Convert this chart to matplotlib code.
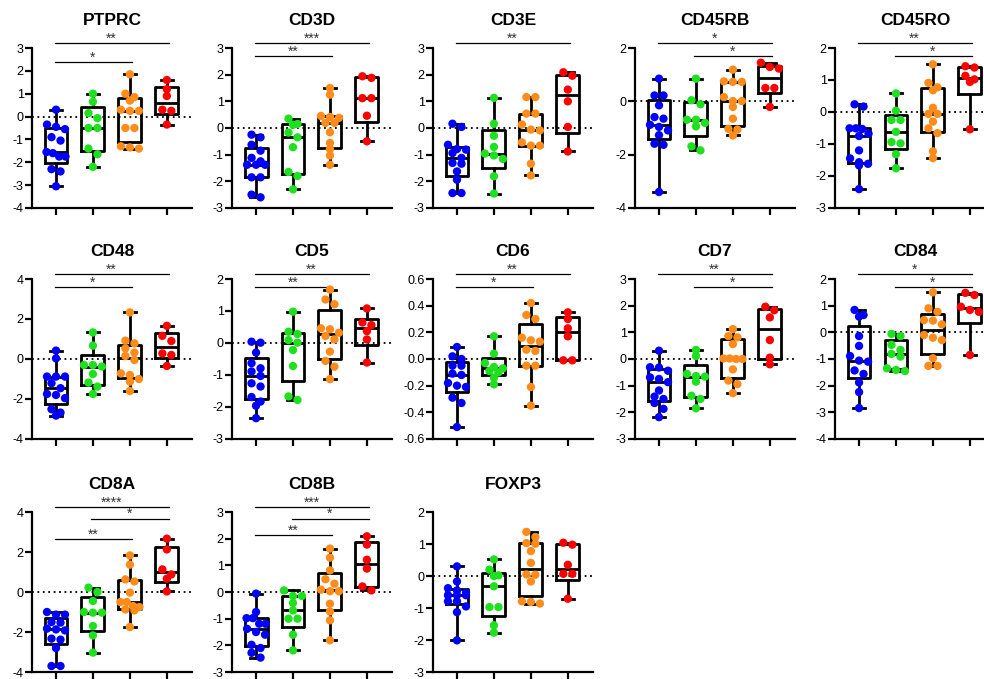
import numpy as np
import matplotlib
matplotlib.use("Agg")
import matplotlib.pyplot as plt
import matplotlib.transforms as mtransforms

plt.rcParams['font.family'] = ['Liberation Sans', 'DejaVu Sans']
plt.rcParams['axes.unicode_minus'] = False

# group colours: blue, green, orange, red
colors = ['#0000ff', '#1fe01f', '#ff8c1a', '#ff0000']

# values, one list per group
ptprc = [[0.3, -0.35, -0.45, -0.55, -0.9, -1.05, -1.55, -1.6, -1.75, -1.75, -2.3, -2.4, -3.05],
         [1.0, 0.65, 0.15, -0.07, -0.5, -0.5, -1.4, -1.65, -2.2],
         [1.85, 1.0, 0.85, 0.7, 0.3, 0.25, 0.25, -0.5, -0.5, -1.3, -1.35, -1.4],
         [1.6, 1.2, 0.9, 0.3, 0.25, -0.35]]
cd3d = [[-0.25, -0.35, -0.63, -0.85, -1.12, -1.38, -1.38, -1.38, -1.25, -1.85, -1.85, -2.5, -2.6],
        [0.35, 0.15, 0.12, -0.35, -0.17, -0.72, -1.65, -1.8, -2.3],
        [1.5, 1.25, 0.41, 0.45, 0.38, 0.19, 0.19, -0.16, -0.56, -0.79, -1.03, -1.38],
        [1.88, 1.94, 1.12, 1.12, 0.46, -0.5]]
cd3e = [[0.16, 0.04, -0.63, -0.79, -0.81, -0.94, -1.12, -1.31, -1.34, -1.63, -1.94, -2.44, -2.44],
        [1.13, 0.16, -0.29, -0.71, -0.96, -1.03, -1.16, -1.81, -2.46],
        [1.16, 1.16, 0.54, 0.54, 0.13, -0.06, -0.09, -0.54, -0.66, -0.66, -1.34, -1.78],
        [1.96, 2.09, 1.44, 1.0, 0.04, -0.88]]
cd45rb = [[0.85, 0.22, 0.22, -0.15, -0.59, -0.65, -0.88, -0.96, -1.09, -1.27, -1.59, -1.63, -3.4],
          [0.85, 0.04, -0.11, -0.69, -0.69, -0.81, -0.94, -1.69, -1.84],
          [1.19, 0.73, 0.73, 0.75, 0.16, 0.01, 0.01, -0.21, -0.65, -1.03, -1.06, -1.28],
          [1.29, 1.45, 1.23, 0.5, 0.5, -0.21]]
cd45ro = [[0.24, 0.17, -0.51, -0.51, -0.53, -0.68, -0.75, -1.2, -1.45, -1.57, -1.62, -1.67, -2.41],
          [0.58, 0.04, -0.25, -0.25, -0.62, -0.98, -0.94, -1.32, -1.76],
          [1.49, 0.91, 0.68, 0.77, 0.13, -0.06, -0.06, -0.3, -0.51, -0.66, -1.23, -1.44],
          [1.43, 1.39, 1.13, 0.94, 1.02, -0.54]]
cd48 = [[0.42, 0.03, -0.88, -0.88, -0.88, -1.21, -1.46, -1.75, -1.8, -1.96, -2.51, -2.68, -2.83],
        [1.33, 0.67, -0.38, -0.3, -0.3, -0.75, -1.18, -1.38, -1.75],
        [2.33, 0.92, 0.78, 0.53, 0.32, 0.15, -0.05, -0.8, -0.72, -1.0, -1.13, -1.6],
        [1.66, 1.16, 0.9, 0.28, 0.2, -0.35]]
cd5 = [[0.04, 0.01, -0.3, -0.63, -0.79, -0.89, -1.03, -1.26, -1.36, -1.69, -1.83, -1.96, -2.35],
       [0.98, 0.28, 0.35, 0.09, 0.01, -0.22, -0.72, -1.78, -1.67],
       [1.67, 1.36, 1.21, 0.46, 0.43, 0.22, 0.32, 0.11, -0.27, -0.56, -0.74, -1.13],
       [1.08, 0.64, 0.56, 0.37, 0.11, -0.61]]
cd6 = [[0.09, 0.0, 0.02, -0.05, -0.05, -0.18, -0.12, -0.11, -0.21, -0.2, -0.33, -0.29, -0.51],
       [0.17, 0.04, -0.06, -0.03, -0.07, -0.09, -0.1, -0.14, -0.19],
       [0.42, 0.33, 0.3, 0.14, 0.16, 0.13, 0.06, 0.07, -0.05, -0.05, -0.21, -0.35],
       [0.35, 0.3, 0.23, 0.17, -0.01, -0.01]]
cd7 = [[0.31, -0.32, -0.31, -0.44, -0.69, -0.75, -0.87, -1.18, -1.41, -1.5, -1.65, -1.87, -2.18],
       [0.34, 0.11, -0.64, -0.56, -0.66, -0.85, -1.38, -1.5, -1.85],
       [1.12, 0.81, 0.86, 0.56, 0.02, 0.02, 0.0, 0.0, -0.39, -0.81, -0.94, -1.28],
       [1.83, 1.96, 1.56, 0.71, 0.05, -0.2]]
cd84 = [[0.84, 0.59, 0.65, -0.14, -0.51, -0.89, -1.06, -1.1, -1.43, -1.56, -1.88, -2.24, -2.84],
        [-0.14, -0.06, -0.66, -0.91, -0.81, -0.47, -1.45, -1.35, -1.41],
        [1.5, 0.9, 0.77, 0.44, 0.46, 0.3, -0.1, -0.2, -0.29, -0.97, -1.26, -1.26],
        [1.48, 1.4, 0.96, 0.84, 0.77, -0.85]]
cd8a = [[-1.13, -1.13, -1.0, -1.5, -1.53, -1.83, -1.92, -1.87, -2.33, -2.38, -2.8, -3.7, -3.7],
        [0.22, 0.0, -0.45, -1.0, -1.03, -1.03, -1.7, -2.17, -3.03],
        [1.83, 1.37, 0.53, 0.63, -0.03, -0.5, -0.5, -0.7, -0.75, -0.87, -0.92, -1.75],
        [2.67, 2.13, 1.13, 0.88, 0.67, 0.03]]
cd8b = [[-0.06, -0.75, -0.98, -0.98, -1.19, -1.19, -1.38, -1.5, -1.6, -1.98, -2.1, -2.28, -2.46],
        [0.06, -0.15, -0.15, -0.41, -0.69, -1.0, -1.0, -1.6, -2.19],
        [1.63, 1.29, 0.81, 0.48, 0.31, 0.09, 0.03, 0.03, -0.44, -0.73, -1.06, -1.81],
        [2.09, 1.78, 1.21, 0.88, 0.21, 0.06]]
foxp3 = [[0.3, -0.17, -0.38, -0.45, -0.52, -0.6, -0.6, -0.6, -0.79, -0.79, -0.95, -1.13, -2.01],
         [0.52, 0.2, 0.02, 0.0, -0.32, -0.97, -0.97, -1.54, -1.77],
         [1.38, 1.22, 1.03, 1.01, 0.78, 0.41, 0.05, 0.04, -0.17, -0.79, -0.86, -0.81],
         [0.98, 1.04, 0.35, 0.07, 0.07, -0.71]]

genes = ['PTPRC', 'CD3D', 'CD3E', 'CD45RB', 'CD45RO',
         'CD48', 'CD5', 'CD6', 'CD7', 'CD84',
         'CD8A', 'CD8B', 'FOXP3']
values = [ptprc, cd3d, cd3e, cd45rb, cd45ro, cd48, cd5, cd6, cd7, cd84, cd8a, cd8b, foxp3]
# (ymin, ymax, tick step)
yscales = [(-4, 3, 1), (-3, 3, 1), (-3, 3, 1), (-4, 2, 2), (-3, 2, 1),
           (-4, 4, 2), (-3, 2, 1), (-0.6, 0.6, 0.2), (-3, 3, 1), (-4, 2, 1),
           (-4, 4, 2), (-3, 3, 1), (-3, 2, 1)]
# significance bars: (from group, to group, label, stack level)
sig_bars = [[(1, 4, '**', 0), (1, 3, '*', 1.5)],
            [(1, 4, '***', 0), (1, 3, '**', 1)],
            [(1, 4, '**', 0)],
            [(1, 4, '*', 0), (2, 4, '*', 1)],
            [(1, 4, '**', 0), (2, 4, '*', 1)],
            [(1, 4, '**', 0), (1, 3, '*', 1)],
            [(1, 4, '**', 0), (1, 3, '**', 1)],
            [(1, 4, '**', 0), (1, 3, '*', 1)],
            [(1, 4, '**', 0), (2, 4, '*', 1)],
            [(1, 4, '*', 0), (2, 4, '*', 1)],
            [(1, 4, '****', 0), (2, 4, '*', 0.9), (1, 3, '**', 2.5)],
            [(1, 4, '***', 0), (2, 4, '*', 0.9), (1, 3, '**', 2.2)],
            []]

lefts = [0.0325, 0.2358, 0.44, 0.6453, 0.8486]
bottoms = [0.6937, 0.3535, 0.0103]
ax_w, ax_h = 0.1626, 0.2356

fig = plt.figure(figsize=(9.84, 6.79), dpi=100)
ax_h_px = ax_h * 679
x_px = 37.0     # pixels per group step
row_h = 6.0     # points closer than this (px) share a row
col_w = 9.0     # horizontal spacing inside a row (px)
max_w = 19.0    # widest a row may get (px)


def scatter_offsets(vals, px_per_unit):
    # Prism-like scatter: points falling in the same row are spread evenly around the centre
    order = np.argsort(vals)[::-1]
    offs = np.zeros(len(vals))
    rows = []
    for i in order:
        y = vals[i] * px_per_unit
        if rows and rows[-1][0] - y < row_h:
            rows[-1][1].append(i)
        else:
            rows.append((y, [i]))
    for _, idx in rows:
        k = len(idx)
        sp = col_w if k < 2 else min(col_w, max_w / (k - 1))
        for j, i in enumerate(idx):
            offs[i] = (j - (k - 1) / 2) * sp / x_px
    return offs


for n, gene in enumerate(genes):
    r, c = divmod(n, 5)
    ax = fig.add_axes([lefts[c], bottoms[r], ax_w, ax_h])
    ymin, ymax, step = yscales[n]
    ppu = ax_h_px / (ymax - ymin)

    stats = []
    for g in values[n]:
        a = np.array(g)
        q1, med, q3 = np.percentile(a, [25, 50, 75], method='weibull')
        stats.append(dict(med=med, q1=q1, q3=q3, whislo=a.min(), whishi=a.max(), fliers=[]))
    lp = dict(color='black', linewidth=2.0)
    ax.bxp(stats, positions=[1, 2, 3, 4], widths=0.62, capwidths=0.32, showfliers=False,
           boxprops=lp, whiskerprops=lp, capprops=lp, medianprops=lp, zorder=2)

    for gi, g in enumerate(values[n]):
        a = np.array(g)
        xs = gi + 1 + scatter_offsets(a, ppu)
        ax.scatter(xs, a, s=36, color=colors[gi], edgecolors='none', zorder=3, clip_on=False)

    ax.axhline(0, color='black', linestyle=(0, (1, 2)), linewidth=1.3, zorder=1)

    ax.set_xlim(0.35, 4.68)
    ax.set_ylim(ymin, ymax)
    ticks = np.arange(ymin, ymax + step / 2, step)
    ax.set_yticks(ticks)
    if step < 1:
        ax.set_yticklabels(['%.1f' % t for t in ticks])
    else:
        ax.set_yticklabels(['%d' % round(t) for t in ticks])
    ax.set_xticks([1, 2, 3, 4])
    ax.set_xticklabels([])
    for sp in ['top', 'right']:
        ax.spines[sp].set_visible(False)
    for sp in ['left', 'bottom']:
        ax.spines[sp].set_linewidth(1.6)
    ax.tick_params(width=1.6, length=5, labelsize=9, pad=1)

    ax.text(0.5, 1.17, gene, transform=ax.transAxes, ha='center', va='center',
            fontsize=12.5, fontweight='bold')

    trans = mtransforms.blended_transform_factory(ax.transData, ax.transAxes)
    for g1, g2, label, lev in sig_bars[n]:
        yb = 1.03 - 0.08 * lev
        ax.plot([g1 - 0.04, g2 + 0.05], [yb, yb], color='black', linewidth=0.9,
                transform=trans, clip_on=False)
        ax.text((g1 + g2) / 2, yb - 0.015, label, transform=trans, ha='center', va='bottom',
                fontsize=10, color='#333333')

fig.savefig('out.png', dpi=100)
